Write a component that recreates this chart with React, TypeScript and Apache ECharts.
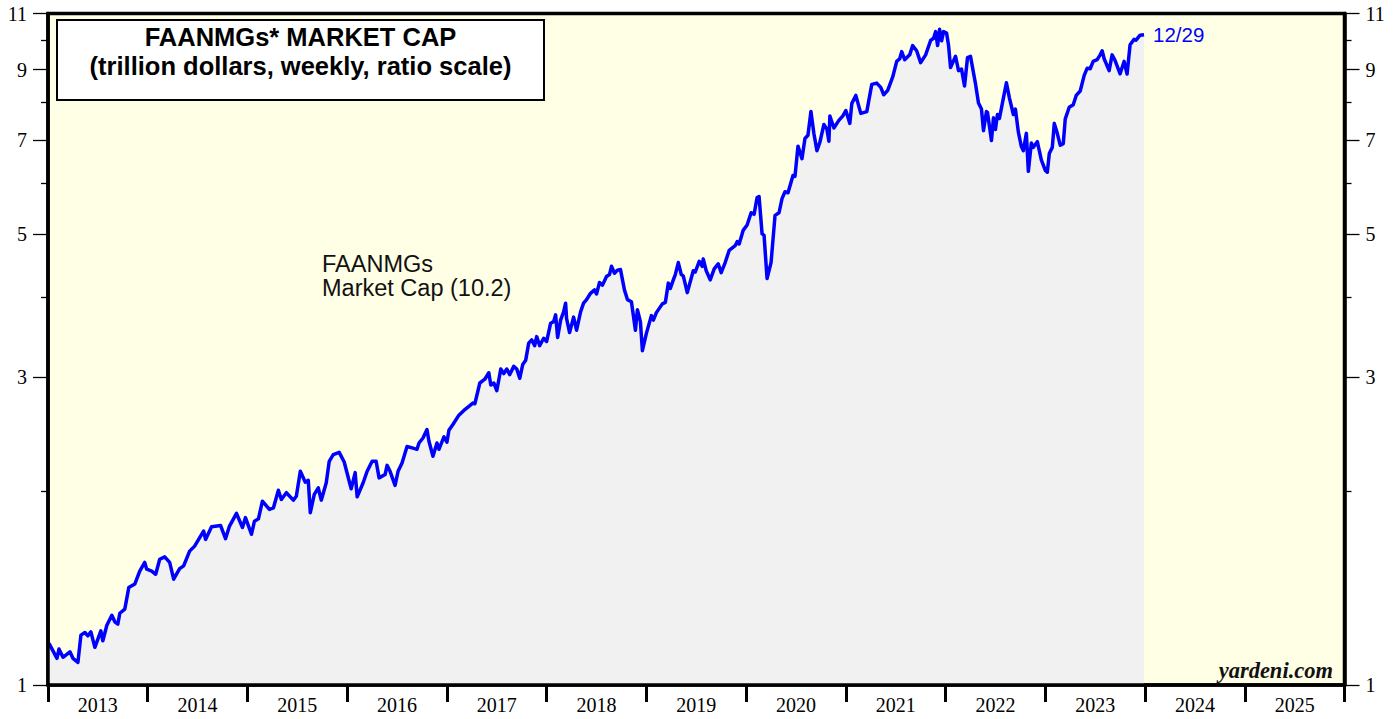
import { useEffect, useRef } from 'react';
import * as echarts from 'echarts';

// ---- axis labels / ticks ----
const yearLabels = ['2013', '2014', '2015', '2016', '2017', '2018', '2019', '2020', '2021', '2022', '2023', '2024', '2025'];
const majorTicks = [1, 3, 5, 7, 9, 11];
const minorTicks = [2, 4, 6, 8, 10];

// ---- weekly FAANMGs market cap (trillion $) ----
const t2013 = [2013.01, 2013.09, 2013.11, 2013.15, 2013.22, 2013.25, 2013.30, 2013.33, 2013.37, 2013.40, 2013.43, 2013.47, 2013.53, 2013.55, 2013.59, 2013.64, 2013.67, 2013.70, 2013.72, 2013.77, 2013.81, 2013.87, 2013.92, 2013.97, 2013.99];
const v2013 = [1.16, 1.10, 1.137, 1.104, 1.126, 1.10, 1.084, 1.195, 1.206, 1.192, 1.209, 1.144, 1.213, 1.171, 1.238, 1.283, 1.253, 1.243, 1.292, 1.311, 1.416, 1.434, 1.502, 1.549, 1.512];

const t2014 = [2014.04, 2014.08, 2014.12, 2014.17, 2014.22, 2014.26, 2014.32, 2014.36, 2014.42, 2014.47, 2014.56, 2014.58, 2014.64, 2014.73, 2014.78, 2014.82, 2014.89, 2014.95, 2014.98];
const v2014 = [1.502, 1.485, 1.567, 1.58, 1.549, 1.459, 1.515, 1.53, 1.613, 1.642, 1.733, 1.682, 1.76, 1.768, 1.686, 1.764, 1.846, 1.755, 1.818];

const t2015 = [2015.04, 2015.07, 2015.11, 2015.15, 2015.22, 2015.26, 2015.31, 2015.34, 2015.39, 2015.46, 2015.49, 2015.53, 2015.58, 2015.61, 2015.63, 2015.67, 2015.71, 2015.74, 2015.79, 2015.82, 2015.86, 2015.92, 2015.97];
const v2015 = [1.713, 1.795, 1.81, 1.928, 1.872, 1.882, 2.005, 1.94, 1.987, 1.935, 1.962, 2.145, 2.063, 2.077, 1.85, 1.975, 2.022, 1.935, 2.059, 2.223, 2.276, 2.295, 2.217];

const t2016 = [2016.04, 2016.08, 2016.10, 2016.16, 2016.20, 2016.25, 2016.29, 2016.32, 2016.38, 2016.40, 2016.43, 2016.48, 2016.51, 2016.55, 2016.60, 2016.66, 2016.70, 2016.72, 2016.76, 2016.80, 2016.82, 2016.86, 2016.90, 2016.92, 2016.97];
const v2016 = [2.015, 2.135, 1.958, 2.059, 2.145, 2.223, 2.223, 2.095, 2.12, 2.191, 2.145, 2.04, 2.145, 2.21, 2.344, 2.33, 2.32, 2.373, 2.416, 2.49, 2.388, 2.263, 2.373, 2.32, 2.425];

const t2017 = [2017.00, 2017.02, 2017.06, 2017.12, 2017.17, 2017.22, 2017.26, 2017.28, 2017.33, 2017.38, 2017.42, 2017.44, 2017.47, 2017.50, 2017.54, 2017.57, 2017.60, 2017.63, 2017.67, 2017.70, 2017.73, 2017.76, 2017.79, 2017.82, 2017.85, 2017.88, 2017.90, 2017.93, 2017.97];
const v2017 = [2.38, 2.483, 2.535, 2.621, 2.666, 2.705, 2.737, 2.73, 2.94, 2.98, 3.05, 2.92, 2.94, 2.86, 3.09, 3.04, 3.09, 3.03, 3.12, 3.09, 2.99, 3.14, 3.19, 3.39, 3.43, 3.36, 3.47, 3.36, 3.45];

const t2018 = [2018.00, 2018.04, 2018.07, 2018.09, 2018.11, 2018.14, 2018.17, 2018.19, 2018.20, 2018.23, 2018.27, 2018.30, 2018.34, 2018.37, 2018.40, 2018.44, 2018.48, 2018.50, 2018.53, 2018.56, 2018.60, 2018.63, 2018.65, 2018.68, 2018.71, 2018.74, 2018.78, 2018.81, 2018.85, 2018.89, 2018.91, 2018.94, 2018.96];
const v2018 = [3.41, 3.64, 3.66, 3.75, 3.46, 3.68, 3.79, 3.91, 3.70, 3.52, 3.72, 3.55, 3.79, 3.91, 3.96, 4.05, 4.10, 4.04, 4.21, 4.17, 4.30, 4.33, 4.46, 4.35, 4.40, 4.41, 4.10, 3.96, 3.93, 3.55, 3.82, 3.66, 3.30];

const t2019 = [2019.00, 2019.05, 2019.07, 2019.10, 2019.16, 2019.19, 2019.22, 2019.24, 2019.27, 2019.29, 2019.32, 2019.35, 2019.37, 2019.41, 2019.47, 2019.49, 2019.53, 2019.56, 2019.57, 2019.60, 2019.64, 2019.68, 2019.72, 2019.75, 2019.79, 2019.83, 2019.89, 2019.91, 2019.93, 2019.97];
const v2019 = [3.51, 3.74, 3.68, 3.78, 3.90, 3.92, 4.20, 4.12, 4.25, 4.33, 4.52, 4.33, 4.31, 4.06, 4.39, 4.37, 4.54, 4.46, 4.58, 4.39, 4.25, 4.42, 4.50, 4.36, 4.52, 4.72, 4.80, 4.87, 4.83, 5.07];

const t2020 = [2020.01, 2020.05, 2020.08, 2020.11, 2020.13, 2020.16, 2020.18, 2020.21, 2020.25, 2020.29, 2020.33, 2020.36, 2020.39, 2020.42, 2020.47, 2020.49, 2020.52, 2020.56, 2020.59, 2020.62, 2020.65, 2020.68, 2020.71, 2020.74, 2020.78, 2020.81, 2020.83, 2020.84, 2020.88, 2020.93, 2020.97];
const v2020 = [5.17, 5.40, 5.37, 5.70, 5.72, 5.01, 4.98, 4.27, 4.52, 5.35, 5.40, 5.68, 5.82, 5.80, 6.17, 6.15, 6.85, 6.55, 7.04, 7.12, 7.75, 7.16, 6.74, 6.95, 7.40, 7.28, 6.97, 7.63, 7.31, 7.51, 7.63];

const t2021 = [2021.00, 2021.04, 2021.06, 2021.10, 2021.15, 2021.21, 2021.26, 2021.31, 2021.35, 2021.38, 2021.42, 2021.47, 2021.51, 2021.54, 2021.56, 2021.59, 2021.64, 2021.67, 2021.71, 2021.75, 2021.80, 2021.85, 2021.88, 2021.90, 2021.92, 2021.94, 2021.96, 2021.98];
const v2021 = [7.78, 7.43, 7.98, 8.21, 7.70, 7.75, 8.54, 8.58, 8.45, 8.23, 8.36, 8.77, 9.27, 9.36, 9.60, 9.33, 9.49, 9.81, 9.63, 9.23, 9.49, 9.99, 10.07, 10.31, 9.81, 10.40, 9.98, 10.31];

const t2022 = [2022.01, 2022.03, 2022.05, 2022.10, 2022.13, 2022.16, 2022.19, 2022.22, 2022.25, 2022.30, 2022.33, 2022.36, 2022.38, 2022.41, 2022.42, 2022.46, 2022.48, 2022.50, 2022.52, 2022.54, 2022.58, 2022.61, 2022.64, 2022.68, 2022.70, 2022.73, 2022.76, 2022.78, 2022.81, 2022.83, 2022.86, 2022.88, 2022.92, 2022.96];
const v2022 = [10.26, 9.81, 9.07, 9.44, 8.97, 9.02, 8.49, 9.40, 9.44, 8.56, 7.99, 7.82, 7.24, 7.75, 7.73, 6.99, 7.58, 7.27, 7.67, 7.56, 8.14, 8.59, 8.14, 7.67, 7.82, 7.20, 6.84, 6.74, 7.17, 6.26, 6.93, 6.82, 6.96, 6.52];

const t2023 = [2023.00, 2023.02, 2023.04, 2023.07, 2023.09, 2023.12, 2023.15, 2023.18, 2023.20, 2023.24, 2023.28, 2023.31, 2023.35, 2023.39, 2023.42, 2023.45, 2023.48, 2023.52, 2023.55, 2023.57, 2023.59, 2023.64, 2023.67, 2023.70, 2023.75, 2023.79, 2023.82, 2023.85, 2023.89, 2023.91, 2023.95, 2023.99];
const v2023 = [6.28, 6.24, 6.67, 6.82, 7.43, 7.17, 6.87, 6.91, 7.55, 7.87, 7.94, 8.21, 8.34, 8.82, 9.05, 9.03, 9.27, 9.33, 9.49, 9.63, 9.36, 8.97, 9.49, 9.30, 8.87, 9.27, 8.86, 9.84, 10.03, 10.00, 10.18, 10.2];

const lastDateLabel = '12/29';
const lastValue = 10.2;

const weekTimes = [...t2013, ...t2014, ...t2015, ...t2016, ...t2017, ...t2018, ...t2019, ...t2020, ...t2021, ...t2022, ...t2023];
const marketCap = [...v2013, ...v2014, ...v2015, ...v2016, ...v2017, ...v2018, ...v2019, ...v2020, ...v2021, ...v2022, ...v2023];

const SERIF = '"Liberation Serif", "Times New Roman", serif';
const SANS = '"Liberation Sans", Arial, Helvetica, sans-serif';

function yAxisDef(position: 'left' | 'right', ticks: number[], len: number, major: boolean) {
  const vals = ticks.map((v) => Math.log(v));
  return {
    type: 'value',
    position,
    min: 0,
    max: Math.log(11),
    z: 10,
    axisLine: major
      ? { show: true, onZero: false, lineStyle: { color: '#000', width: 3.5 } }
      : { show: false },
    splitLine: { show: false },
    axisTick: {
      show: true,
      inside: false,
      length: len,
      customValues: vals,
      lineStyle: { color: '#000', width: 1.3 },
    },
    axisLabel: major
      ? {
          show: true,
          customValues: vals,
          formatter: (v: number) => String(Math.round(Math.exp(v))),
          margin: 21,
          color: '#000',
          fontFamily: SERIF,
          fontSize: 20,
        }
      : { show: false },
  };
}

export default function App() {
  const ref = useRef<HTMLDivElement>(null);

  useEffect(() => {
    if (!ref.current) return;
    const chart = echarts.init(ref.current, null, { renderer: 'svg' });
    const data = weekTimes.map((t, i) => [t, Math.log(marketCap[i])]);

    chart.setOption({
      animation: false,
      backgroundColor: '#ffffff',
      grid: {
        left: 48,
        right: 53.5,
        top: 13.5,
        bottom: 34,
        show: true,
        backgroundColor: '#FFFFE6',
        borderColor: '#000',
        borderWidth: 3.5,
        containLabel: false,
      },
      xAxis: [
        {
          type: 'category',
          data: yearLabels,
          position: 'bottom',
          boundaryGap: true,
          z: 10,
          axisLine: { show: true, onZero: false, lineStyle: { color: '#000', width: 3.5 } },
          axisTick: {
            show: true,
            alignWithLabel: false,
            interval: 0,
            length: 17,
            lineStyle: { color: '#000', width: 3 },
          },
          axisLabel: {
            interval: 0,
            margin: 10,
            color: '#000',
            fontFamily: SERIF,
            fontSize: 20,
          },
          splitLine: { show: false },
        },
        {
          type: 'value',
          position: 'top',
          min: 2013,
          max: 2026,
          show: false,
        },
      ],
      yAxis: [
        yAxisDef('left', majorTicks, 15, true),
        yAxisDef('left', minorTicks, 7, false),
        yAxisDef('right', majorTicks, 15, true),
        yAxisDef('right', minorTicks, 7, false),
      ],
      series: [
        {
          type: 'line',
          xAxisIndex: 1,
          yAxisIndex: 0,
          data,
          showSymbol: false,
          symbol: 'none',
          lineStyle: { color: '#0000FF', width: 3.5, join: 'round' },
          itemStyle: { color: '#0000FF' },
          areaStyle: { color: '#F1F1F1', opacity: 1, origin: 'start' },
          endLabel: {
            show: true,
            formatter: () => lastDateLabel,
            color: '#0000FF',
            fontFamily: SANS,
            fontSize: 20.5,
            distance: 9,
          },
          z: 3,
        },
      ],
      graphic: [
        {
          type: 'rect',
          z: 100,
          shape: { x: 57, y: 20, width: 487, height: 80 },
          style: { fill: '#ffffff', stroke: '#000', lineWidth: 2 },
        },
        {
          type: 'text',
          z: 101,
          x: 300.5,
          y: 36.5,
          style: {
            text: 'FAANMGs* MARKET CAP',
            fill: '#000',
            font: `bold 25.5px ${SANS}`,
            align: 'center',
            verticalAlign: 'middle',
            textAlign: 'center',
            textVerticalAlign: 'middle',
          },
        },
        {
          type: 'text',
          z: 101,
          x: 300.5,
          y: 65.5,
          style: {
            text: '(trillion dollars, weekly, ratio scale)',
            fill: '#000',
            font: `bold 25.5px ${SANS}`,
            align: 'center',
            verticalAlign: 'middle',
            textAlign: 'center',
            textVerticalAlign: 'middle',
          },
        },
        {
          type: 'text',
          z: 101,
          x: 322,
          y: 263.5,
          style: {
            text: 'FAANMGs',
            fill: '#111',
            font: `23.5px ${SANS}`,
            align: 'left',
            verticalAlign: 'middle',
            textAlign: 'left',
            textVerticalAlign: 'middle',
          },
        },
        {
          type: 'text',
          z: 101,
          x: 322,
          y: 288,
          style: {
            text: `Market Cap (${lastValue})`,
            fill: '#111',
            font: `23.5px ${SANS}`,
            align: 'left',
            verticalAlign: 'middle',
            textAlign: 'left',
            textVerticalAlign: 'middle',
          },
        },
        {
          type: 'text',
          z: 101,
          x: 1333,
          y: 670,
          style: {
            text: 'yardeni.com',
            fill: '#111',
            font: `italic bold 22.5px ${SERIF}`,
            align: 'right',
            verticalAlign: 'middle',
            textAlign: 'right',
            textVerticalAlign: 'middle',
          },
        },
      ],
    });

    return () => chart.dispose();
  }, []);

  return (
    <div
      ref={ref}
      style={{ position: 'absolute', left: 0, top: 0, width: 1398, height: 719 }}
    />
  );
}
